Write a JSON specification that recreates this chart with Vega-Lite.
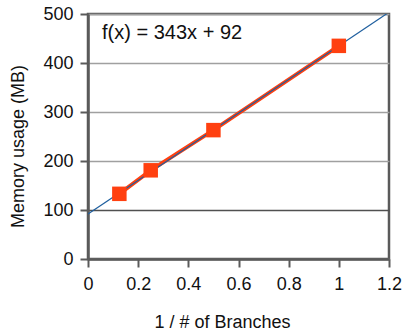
{
  "$schema": "https://vega.github.io/schema/vega-lite/v6.json",
  "width": 301,
  "height": 245,
  "autosize": {"type": "none"},
  "padding": {"left": 88, "top": 14, "right": 15, "bottom": 72},
  "background": "white",
  "config": {
    "font": "Liberation Sans",
    "view": {"stroke": "#5a5a5a", "strokeWidth": 2.5}
  },
  "datasets": {
    "pts": [
      {"x": 0.125, "y": 133},
      {"x": 0.25, "y": 181},
      {"x": 0.5, "y": 263},
      {"x": 1.0, "y": 435}
    ],
    "fit": [
      {"x": 0, "y": 92},
      {"x": 1.2, "y": 503.6}
    ],
    "label": [
      {"x": 0.056, "y": 449, "t": "f(x) = 343x + 92"}
    ]
  },
  "layer": [
    {
      "data": {"name": "pts"},
      "mark": {"type": "line", "color": "#ff4010", "strokeWidth": 4},
      "encoding": {
        "x": {
          "field": "x", "type": "quantitative",
          "scale": {"domain": [0, 1.2], "nice": false},
          "axis": {
            "title": "1 / # of Branches",
            "values": [0, 0.2, 0.4, 0.6, 0.8, 1, 1.2],
            "format": "~g",
            "grid": false,
            "domainColor": "#5a5a5a", "domainWidth": 2.5,
            "tickColor": "#5a5a5a", "tickWidth": 2, "tickSize": 8,
            "labelFontSize": 18, "labelColor": "#111", "labelPadding": 8,
            "labelFlush": false,
            "titleFontSize": 18, "titleFontWeight": "normal", "titleColor": "#111",
            "titleBaseline": "alphabetic", "titleY": 68, "titleX": 134, "titleAlign": "center"
          }
        },
        "y": {
          "field": "y", "type": "quantitative",
          "scale": {"domain": [0, 500], "nice": false},
          "axis": {
            "title": "Memory usage (MB)",
            "values": [0, 100, 200, 300, 400, 500],
            "grid": true,
            "gridColor": {"condition": {"test": "datum.value === 100", "value": "#505050"}, "value": "#a0a0a0"},
            "gridWidth": 1.4,
            "domainColor": "#5a5a5a", "domainWidth": 2.5,
            "tickColor": "#5a5a5a", "tickWidth": 2, "tickSize": 8,
            "labelFontSize": 18, "labelColor": "#111", "labelPadding": 7,
            "labelFlush": false,
            "titleFontSize": 18, "titleFontWeight": "normal", "titleColor": "#111",
            "titleX": -70, "titleY": 132, "titleBaseline": "middle", "titleAlign": "center"
          }
        }
      }
    },
    {
      "data": {"name": "fit"},
      "mark": {"type": "line", "color": "#1f5f9f", "strokeWidth": 1.2, "clip": true},
      "encoding": {
        "x": {"field": "x", "type": "quantitative"},
        "y": {"field": "y", "type": "quantitative"}
      }
    },
    {
      "data": {"name": "pts"},
      "mark": {"type": "square", "color": "#ff4010", "opacity": 1, "size": 210, "filled": true},
      "encoding": {
        "x": {"field": "x", "type": "quantitative"},
        "y": {"field": "y", "type": "quantitative"}
      }
    },
    {
      "data": {"name": "label"},
      "mark": {"type": "text", "align": "left", "baseline": "alphabetic", "fontSize": 20, "color": "#111"},
      "encoding": {
        "x": {"field": "x", "type": "quantitative"},
        "y": {"field": "y", "type": "quantitative"},
        "text": {"field": "t"}
      }
    }
  ]
}
